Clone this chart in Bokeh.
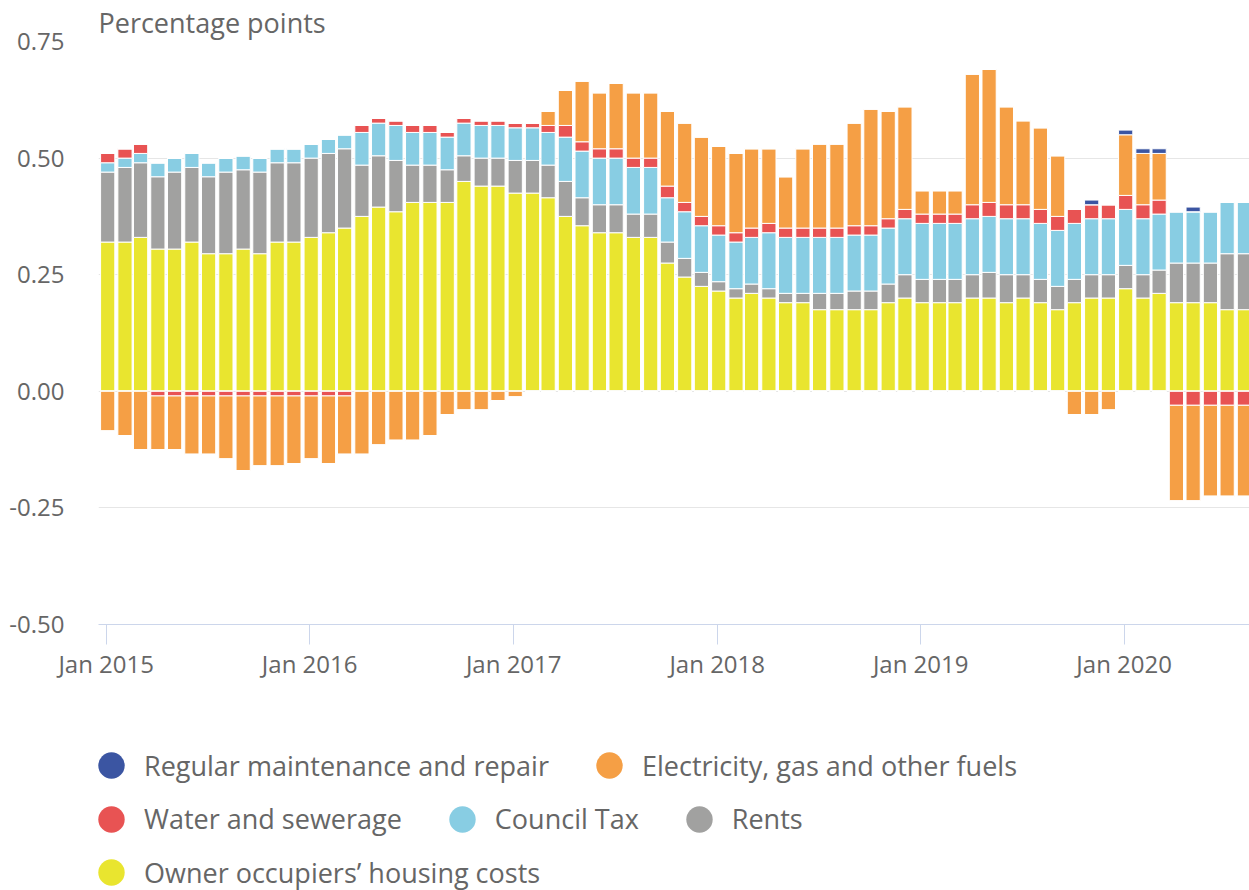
import pandas as pd
from bokeh.plotting import figure
from bokeh.layouts import column
from bokeh.models import (ColumnDataSource, Range1d, FixedTicker, DatetimeTickFormatter,
                          NumeralTickFormatter, Legend, LegendItem, Title)
from bokeh.transform import dodge
from bokeh.embed import file_html
from bokeh.resources import INLINE

# ---------------- data (percentage points) ----------------
months = pd.date_range("2015-01-01", "2020-08-01", freq="MS")

owner_occupiers = [0.32, 0.32, 0.33, 0.305, 0.305, 0.32, 0.295, 0.295, 0.305, 0.295, 0.32, 0.32,
                   0.33, 0.34, 0.35, 0.375, 0.395, 0.385, 0.405, 0.405, 0.405, 0.45, 0.44, 0.44,
                   0.425, 0.425, 0.415, 0.375, 0.355, 0.34, 0.34, 0.33, 0.33, 0.275, 0.245, 0.225,
                   0.215, 0.20, 0.21, 0.20, 0.19, 0.19, 0.175, 0.175, 0.175, 0.175, 0.19, 0.20,
                   0.19, 0.19, 0.19, 0.20, 0.20, 0.19, 0.20, 0.19, 0.175, 0.19, 0.20, 0.20,
                   0.22, 0.20, 0.21, 0.19, 0.19, 0.19, 0.175, 0.175]
rents = [0.15, 0.16, 0.16, 0.155, 0.165, 0.16, 0.165, 0.175, 0.17, 0.175, 0.17, 0.17,
         0.17, 0.17, 0.17, 0.11, 0.11, 0.11, 0.08, 0.08, 0.07, 0.055, 0.06, 0.06,
         0.07, 0.07, 0.07, 0.075, 0.06, 0.06, 0.06, 0.05, 0.05, 0.045, 0.04, 0.03,
         0.02, 0.02, 0.02, 0.02, 0.02, 0.02, 0.035, 0.035, 0.04, 0.04, 0.04, 0.05,
         0.05, 0.05, 0.05, 0.05, 0.055, 0.06, 0.05, 0.05, 0.05, 0.05, 0.05, 0.05,
         0.05, 0.05, 0.05, 0.085, 0.085, 0.085, 0.12, 0.12]
council_tax = [0.02, 0.02, 0.02, 0.03, 0.03, 0.03, 0.03, 0.03, 0.03, 0.03, 0.03, 0.03,
               0.03, 0.03, 0.03, 0.07, 0.07, 0.075, 0.07, 0.07, 0.07, 0.07, 0.07, 0.07,
               0.07, 0.07, 0.07, 0.095, 0.10, 0.10, 0.10, 0.10, 0.10, 0.095, 0.10, 0.10,
               0.10, 0.10, 0.10, 0.12, 0.12, 0.12, 0.12, 0.12, 0.12, 0.12, 0.12, 0.12,
               0.12, 0.12, 0.12, 0.12, 0.12, 0.12, 0.12, 0.12, 0.12, 0.12, 0.12, 0.12,
               0.12, 0.12, 0.12, 0.11, 0.11, 0.11, 0.11, 0.11]
water = [0.02, 0.02, 0.02, -0.01, -0.01, -0.01, -0.01, -0.01, -0.01, -0.01, -0.01, -0.01,
         -0.01, -0.01, -0.01, 0.015, 0.01, 0.01, 0.015, 0.015, 0.01, 0.01, 0.01, 0.01,
         0.01, 0.01, 0.015, 0.025, 0.02, 0.02, 0.02, 0.02, 0.02, 0.025, 0.02, 0.02,
         0.02, 0.02, 0.02, 0.02, 0.02, 0.02, 0.02, 0.02, 0.02, 0.02, 0.02, 0.02,
         0.02, 0.02, 0.02, 0.03, 0.03, 0.03, 0.03, 0.03, 0.03, 0.03, 0.03, 0.03,
         0.03, 0.03, 0.03, -0.03, -0.03, -0.03, -0.03, -0.03]
electricity = [-0.085, -0.095, -0.125, -0.115, -0.115, -0.125, -0.125, -0.135, -0.16, -0.15, -0.15, -0.145,
               -0.135, -0.145, -0.125, -0.135, -0.115, -0.105, -0.105, -0.095, -0.05, -0.04, -0.04, -0.02,
               -0.012, 0.0, 0.03, 0.075, 0.13, 0.12, 0.14, 0.14, 0.14, 0.16, 0.17, 0.17,
               0.17, 0.17, 0.17, 0.16, 0.11, 0.17, 0.18, 0.18, 0.22, 0.25, 0.23, 0.22,
               0.05, 0.05, 0.05, 0.28, 0.285, 0.21, 0.18, 0.175, 0.13, -0.05, -0.05, -0.04,
               0.13, 0.11, 0.10, -0.205, -0.205, -0.195, -0.195, -0.195]
maintenance = [0.0] * 58 + [0.01, 0.0, 0.01, 0.01, 0.01, 0.0, 0.01, 0.0, 0.0, 0.0]

series_names = ["Owner occupiers’ housing costs", "Rents", "Council Tax",
                "Water and sewerage", "Electricity, gas and other fuels",
                "Regular maintenance and repair"]
series_values = [owner_occupiers, rents, council_tax, water, electricity, maintenance]
series_colors = ["#E9E52F", "#A1A1A0", "#88CDE3", "#E85353", "#F59F45", "#3B55A2"]
series_keys = ["ooh", "rents", "ctax", "water", "elec", "maint"]

legend_rows = [["Regular maintenance and repair", "Electricity, gas and other fuels"],
               ["Water and sewerage", "Council Tax", "Rents"],
               ["Owner occupiers’ housing costs"]]

y_ticks = [-0.5, -0.25, 0.0, 0.25, 0.5, 0.75]
x_tick_years = [2015, 2016, 2017, 2018, 2019, 2020]
y_title = "Percentage points"

# ---------------- build ----------------
data = {"date": months}
for k, vals in zip(series_keys, series_values):
    data[k + "_pos"] = [max(v, 0.0) for v in vals]
    data[k + "_neg"] = [min(v, 0.0) for v in vals]
src = ColumnDataSource(data)

DAY = 86400000.0
x_start = pd.Timestamp("2014-12-18 05:00")
x_end = pd.Timestamp("2020-08-12 19:00")

FONT = "Open Sans"
TXT = "#666666"

p = figure(width=1249, height=700, x_axis_type="datetime",
           x_range=Range1d(x_start, x_end), y_range=Range1d(-0.5, 0.75),
           output_backend="svg", toolbar_location=None,
           min_border_left=98, min_border_right=0, min_border_top=40, min_border_bottom=76)
p.outline_line_color = None
p.background_fill_color = "white"
p.border_fill_color = "white"

p.title = Title(text=y_title, align="left", offset=0, standoff=2,
                text_font=FONT, text_font_size="27px", text_font_style="normal",
                text_color=TXT)

xpos = dodge("date", 2.7 * DAY, range=p.x_range)
bar_w = 25.5 * DAY
p.vbar_stack([k + "_pos" for k in series_keys], x=xpos, width=bar_w, source=src,
             fill_color=series_colors, line_color="white", line_width=1)
p.vbar_stack([k + "_neg" for k in series_keys], x=xpos, width=bar_w, source=src,
             fill_color=series_colors, line_color="white", line_width=1)

# axes
p.xgrid.grid_line_color = None
p.ygrid.grid_line_color = "#e6e6e6"
p.ygrid.grid_line_width = 1

p.yaxis.ticker = FixedTicker(ticks=y_ticks)
p.yaxis.formatter = NumeralTickFormatter(format="0.00")
p.yaxis.axis_line_color = None
p.yaxis.major_tick_line_color = None
p.yaxis.major_tick_out = 0
p.yaxis.major_tick_in = 0
p.yaxis.minor_tick_line_color = None
p.yaxis.major_label_standoff = 34

p.xaxis.ticker = FixedTicker(ticks=[pd.Timestamp(f"{y}-01-01").value / 1e6 for y in x_tick_years])
p.xaxis.formatter = DatetimeTickFormatter(years="%b %Y", months="%b %Y", days="%b %Y",
                                          hours="%b %Y", minutes="%b %Y")
p.xaxis.axis_line_color = "#ccd6eb"
p.xaxis.axis_line_width = 1
p.xaxis.major_tick_line_color = "#ccd6eb"
p.xaxis.major_tick_out = 20
p.xaxis.major_tick_in = 0
p.xaxis.minor_tick_line_color = None
p.xaxis.major_label_standoff = 2

for ax in (p.xaxis, p.yaxis):
    ax.major_label_text_font = FONT
    ax.major_label_text_font_size = "24px"
    ax.major_label_text_color = TXT

# ---------------- legend (separate strip below the chart) ----------------
lg = figure(width=1249, height=190, output_backend="svg", toolbar_location=None,
            x_range=Range1d(0, 1), y_range=Range1d(0, 1),
            x_axis_location=None, y_axis_location=None,
            min_border_left=0, min_border_right=0, min_border_top=0, min_border_bottom=0)
lg.outline_line_color = None
lg.xgrid.grid_line_color = None
lg.ygrid.grid_line_color = None

# legend-only renderers: a single undefined (NaN) point each, so nothing is drawn in the strip
markers = {}
for name, color in zip(series_names, series_colors):
    markers[name] = lg.scatter(x=[float("nan")], y=[float("nan")], marker="circle", size=26,
                               fill_color=color, line_color=None)

row_offsets = [92, 38.5, -15]
for row, vy in zip(legend_rows, row_offsets):
    leg = Legend(items=[LegendItem(label=n, renderers=[markers[n]]) for n in row],
                 orientation="horizontal", location=(-20, vy),
                 glyph_width=66, glyph_height=66, label_standoff=0, spacing=27,
                 padding=0, margin=0, border_line_color=None, background_fill_alpha=0,
                 label_text_font=FONT, label_text_font_size="27px", label_text_color=TXT)
    lg.add_layout(leg, "center")

open("out.html", "w").write(file_html(column(p, lg, spacing=0), INLINE))
